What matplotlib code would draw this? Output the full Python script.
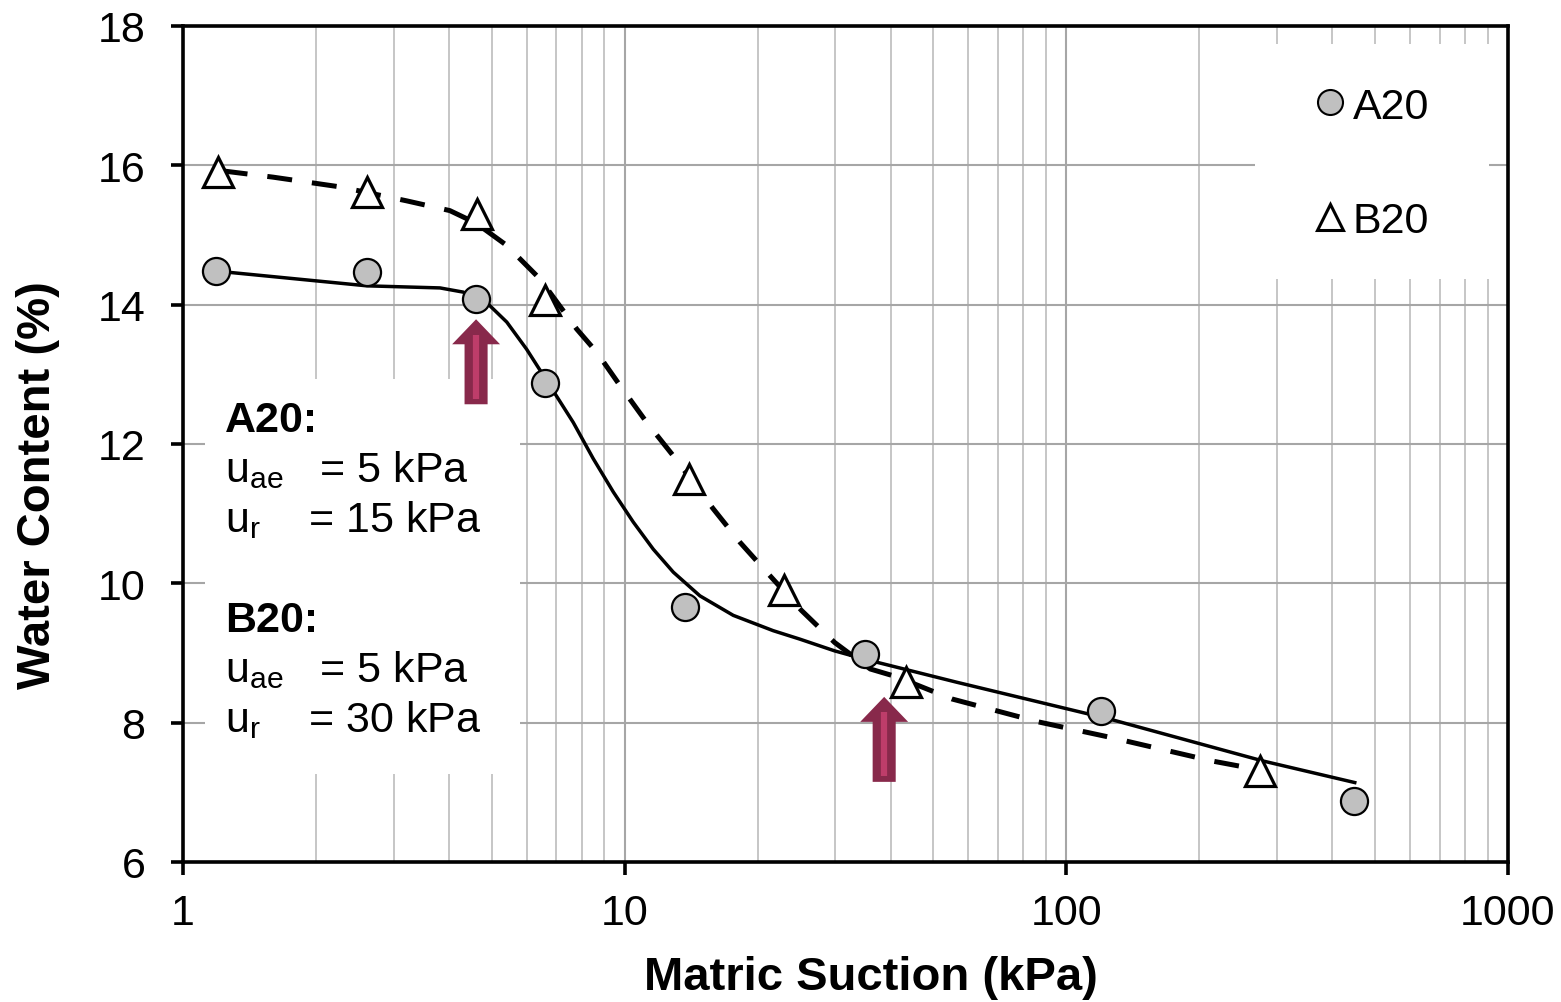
import matplotlib
matplotlib.use('Agg')
import matplotlib.pyplot as plt
from matplotlib.lines import Line2D
from matplotlib.patches import Rectangle, FancyArrowPatch, ArrowStyle
from matplotlib.ticker import LogLocator, NullFormatter

plt.rcParams['font.family'] = ['Liberation Sans', 'DejaVu Sans']
plt.rcParams['mathtext.fontset'] = 'custom'
plt.rcParams['mathtext.rm'] = 'Liberation Sans'

# measured points
a20_x = [1.19, 2.61, 4.61, 6.60, 13.7, 35.0, 120, 448]
a20_y = [14.48, 14.47, 14.08, 12.88, 9.66, 8.99, 8.17, 6.88]
b20_x = [1.20, 2.61, 4.63, 6.60, 14.0, 22.9, 43.3, 275]
b20_y = [15.91, 15.61, 15.30, 14.07, 11.50, 9.91, 8.59, 7.30]

# fitted curves
a20_fit_x = [1.19, 1.29, 2.61, 3.82, 4.31, 4.87, 5.41, 6.0, 6.77, 7.65, 8.49, 9.43,
             10.46, 11.61, 12.89, 14.81, 17.62, 21.7, 24.9, 29.9, 35.0, 56.5, 125.6, 278.8, 450]
a20_fit_y = [14.48, 14.46, 14.27, 14.24, 14.18, 14.03, 13.75, 13.36, 12.84, 12.31, 11.79, 11.31,
             10.88, 10.49, 10.16, 9.82, 9.54, 9.32, 9.20, 9.03, 8.91, 8.58, 8.05, 7.45, 7.14]
b20_fit_x = [1.23, 1.60, 2.27, 3.21, 4.02, 4.61, 5.41, 5.79, 6.43, 7.79, 8.64, 9.76, 11.22, 12.89,
             15.87, 18.24, 21.33, 25.15, 29.9, 36.0, 41.2, 55.1, 86.6, 125.6, 213.7, 264.6]
b20_fit_y = [15.92, 15.83, 15.69, 15.49, 15.35, 15.17, 14.85, 14.66, 14.37, 13.65, 13.32, 12.84, 12.31, 11.83,
             11.07, 10.59, 10.11, 9.61, 9.15, 8.77, 8.66, 8.34, 8.01, 7.79, 7.45, 7.34]

# arrows marking u_ae and u_r
arrow_x = [4.61, 38.7]
arrow_tip = [13.79, 8.37]
arrow_base = [12.57, 7.15]

xticks = [1, 10, 100, 1000]
yticks = [6, 8, 10, 12, 14, 16, 18]

fig = plt.figure(figsize=(15.61, 10.03), dpi=100)
ax = fig.add_axes([0.1172, 0.1396, 0.8488, 0.8335])

ax.set_xscale('log')
ax.set_xlim(1, 1000)
ax.set_ylim(6, 18)
ax.set_xticks(xticks)
ax.set_xticklabels([str(t) for t in xticks])
ax.set_yticks(yticks)
ax.xaxis.set_minor_locator(LogLocator(base=10, subs=range(2, 10)))
ax.xaxis.set_minor_formatter(NullFormatter())

ax.set_axisbelow(True)
ax.grid(which='major', color='#A6A6A6', lw=1.5)
ax.grid(which='minor', axis='x', color='#C6C6C6', lw=1.4)

for s in ax.spines.values():
    s.set_linewidth(2.6)
ax.tick_params(which='major', direction='out', length=9, width=2.6, labelsize=31)
ax.tick_params(axis='y', pad=18)
ax.tick_params(axis='x', pad=13)
ax.tick_params(which='minor', length=0)

# white boxes behind text block and legend
ax.add_patch(Rectangle((0.0166, 0.1053), 0.2377, 0.4725, transform=ax.transAxes,
                       fc='white', ec='none', zorder=1))
ax.add_patch(Rectangle((0.809, 0.697), 0.177, 0.281, transform=ax.transAxes,
                       fc='white', ec='none', zorder=1))

ax.plot(a20_fit_x, a20_fit_y, color='black', lw=2.5, zorder=2)
ax.plot(b20_fit_x, b20_fit_y, color='black', lw=3.6, ls=(0, (5, 4)), zorder=2)
ax.plot(a20_x, a20_y, ls='none', marker='o', ms=19.5, mfc='#C0C0C0', mec='black', mew=1.6, zorder=3)
ax.plot(b20_x, b20_y, ls='none', marker='^', ms=21, mfc='white', mec='black', mew=2.3, zorder=3)

for x, yt, yb in zip(arrow_x, arrow_tip, arrow_base):
    arr = FancyArrowPatch((x, yb), (x, yt),
                          arrowstyle=ArrowStyle('simple', head_length=18, head_width=34.5, tail_width=16.6),
                          mutation_scale=1, fc='#88294B', ec='none', shrinkA=0, shrinkB=0, zorder=4)
    ax.add_patch(arr)
    ax.plot([x, x], [yb + 0.08, yt - 0.22], color='#BE3D6A', lw=4.5, solid_capstyle='butt', zorder=5)

handles = [Line2D([], [], ls='none', marker='o', ms=18, mfc='#C0C0C0', mec='black', mew=1.5),
           Line2D([], [], ls='none', marker='^', ms=19, mfc='white', mec='black', mew=2.2)]
ax.legend(handles, ['A20', 'B20'], loc='center', bbox_to_anchor=(0.899, 0.8354), frameon=False,
          fontsize=31, handlelength=0.5, handletextpad=0.28, labelspacing=1.72)

lines = [('A20:', 'bold', 0.5159),
         (r'u$_\mathregular{ae}$   = 5 kPa', 'normal', 0.4561),
         (r'u$_\mathregular{r}$    = 15 kPa', 'normal', 0.3963),
         ('B20:', 'bold', 0.2766),
         (r'u$_\mathregular{ae}$   = 5 kPa', 'normal', 0.2168),
         (r'u$_\mathregular{r}$    = 30 kPa', 'normal', 0.1570)]
for txt, w, yy in lines:
    ax.text(0.0317, yy, txt, transform=ax.transAxes, fontsize=31, fontweight=w,
            va='baseline', ha='left', zorder=6)

ax.set_xlabel('Matric Suction (kPa)', fontsize=34, fontweight='bold', va='baseline')
ax.xaxis.set_label_coords(0.519, -0.1519)
ax.set_ylabel('Water Content (%)', fontsize=34, fontweight='bold', va='baseline')
ax.yaxis.set_label_coords(-0.1004, 0.452)

fig.savefig('out.png', dpi=100)
